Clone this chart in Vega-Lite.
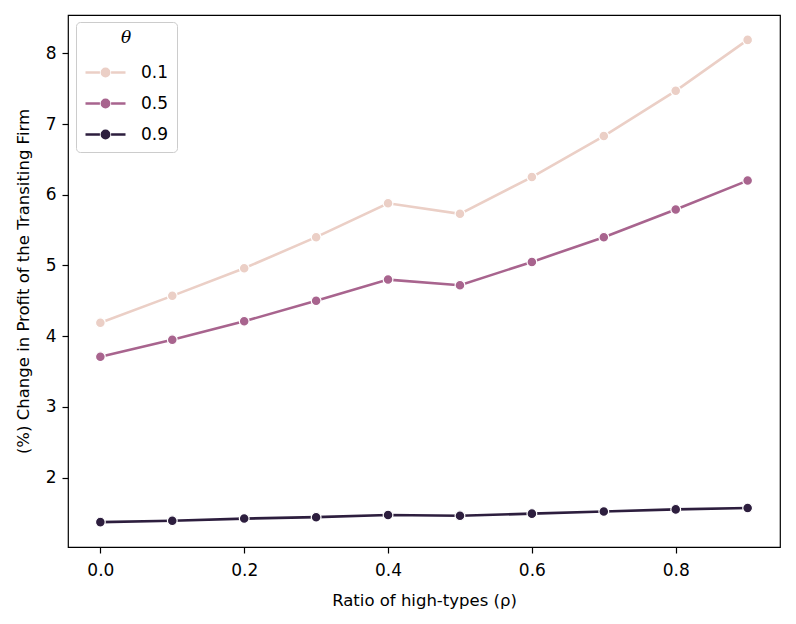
{
  "$schema": "https://vega.github.io/schema/vega-lite/v6.json",
  "width": 712,
  "height": 532,
  "autosize": {"type": "none"},
  "padding": {"left": 68, "top": 15, "right": 16, "bottom": 77},
  "background": "white",
  "config": {
    "view": {"stroke": "black", "strokeWidth": 1.2},
    "font": "DejaVu Sans",
    "axis": {
      "grid": false,
      "domain": false,
      "tickColor": "black",
      "tickSize": 6,
      "tickWidth": 1.2,
      "labelColor": "black",
      "labelFontSize": 17,
      "labelFont": "DejaVu Sans",
      "titleFont": "DejaVu Sans",
      "titleFontSize": 16.5,
      "titleFontWeight": "normal",
      "titleColor": "black"
    }
  },
  "data": {
    "values": [
      {"rho": 0.0, "theta": "0.1", "profit": 4.19},
      {"rho": 0.1, "theta": "0.1", "profit": 4.57},
      {"rho": 0.2, "theta": "0.1", "profit": 4.96},
      {"rho": 0.3, "theta": "0.1", "profit": 5.40},
      {"rho": 0.4, "theta": "0.1", "profit": 5.88},
      {"rho": 0.5, "theta": "0.1", "profit": 5.73},
      {"rho": 0.6, "theta": "0.1", "profit": 6.25},
      {"rho": 0.7, "theta": "0.1", "profit": 6.83},
      {"rho": 0.8, "theta": "0.1", "profit": 7.47},
      {"rho": 0.9, "theta": "0.1", "profit": 8.19},
      {"rho": 0.0, "theta": "0.5", "profit": 3.71},
      {"rho": 0.1, "theta": "0.5", "profit": 3.95},
      {"rho": 0.2, "theta": "0.5", "profit": 4.21},
      {"rho": 0.3, "theta": "0.5", "profit": 4.50},
      {"rho": 0.4, "theta": "0.5", "profit": 4.80},
      {"rho": 0.5, "theta": "0.5", "profit": 4.72},
      {"rho": 0.6, "theta": "0.5", "profit": 5.05},
      {"rho": 0.7, "theta": "0.5", "profit": 5.40},
      {"rho": 0.8, "theta": "0.5", "profit": 5.79},
      {"rho": 0.9, "theta": "0.5", "profit": 6.20},
      {"rho": 0.0, "theta": "0.9", "profit": 1.37},
      {"rho": 0.1, "theta": "0.9", "profit": 1.39},
      {"rho": 0.2, "theta": "0.9", "profit": 1.42},
      {"rho": 0.3, "theta": "0.9", "profit": 1.44},
      {"rho": 0.4, "theta": "0.9", "profit": 1.47},
      {"rho": 0.5, "theta": "0.9", "profit": 1.46},
      {"rho": 0.6, "theta": "0.9", "profit": 1.49},
      {"rho": 0.7, "theta": "0.9", "profit": 1.52},
      {"rho": 0.8, "theta": "0.9", "profit": 1.55},
      {"rho": 0.9, "theta": "0.9", "profit": 1.57}
    ]
  },
  "encoding": {
    "x": {
      "field": "rho",
      "type": "quantitative",
      "scale": {"domain": [-0.045, 0.945], "nice": false, "zero": false},
      "axis": {"values": [0, 0.2, 0.4, 0.6, 0.8], "format": ".1f", "title": "Ratio of high-types (ρ)", "titlePadding": 14, "labelPadding": 9}
    },
    "y": {
      "field": "profit",
      "type": "quantitative",
      "scale": {"domain": [1.018, 8.542], "nice": false, "zero": false},
      "axis": {"values": [2, 3, 4, 5, 6, 7, 8], "title": "(%) Change in Profit of the Transiting Firm", "titlePadding": 14, "labelPadding": 6}
    },
    "color": {
      "field": "theta",
      "type": "nominal",
      "scale": {"domain": ["0.1", "0.5", "0.9"], "range": ["#ebcfc6", "#a8648e", "#2d1e3e"]},
      "legend": {
        "title": "θ",
        "orient": "none",
        "legendX": 8,
        "legendY": 7,
        "titleFontStyle": "italic",
        "titleFontWeight": "normal",
        "titleFontSize": 17,
        "titleFont": "DejaVu Serif",
        "titleAlign": "center",
        "titleAnchor": "middle",
        "titleColor": "black",
        "titlePadding": 4,
        "labelFontSize": 17,
        "labelColor": "black",
        "labelFont": "DejaVu Sans",
        "symbolType": "M-1,0L-0.28,0M0.28,0L1,0M-0.18,0A0.18,0.18 0 1,0 0.18,0A0.18,0.18 0 1,0 -0.18,0Z",
        "symbolSize": 1600,
        "symbolStrokeWidth": 2.6,
        "symbolOpacity": 1,
        "rowPadding": -11,
        "labelOffset": 14,
        "padding": 8,
        "strokeColor": "#cccccc",
        "fillColor": "white",
        "cornerRadius": 4
      }
    }
  },
  "layer": [
    {
      "mark": {"type": "line", "strokeWidth": 2.6},
      "encoding": {"detail": {"field": "theta"}}
    },
    {
      "mark": {"type": "point", "shape": "circle", "filled": true, "opacity": 1, "size": 95, "stroke": "white", "strokeWidth": 1.2}
    }
  ]
}
